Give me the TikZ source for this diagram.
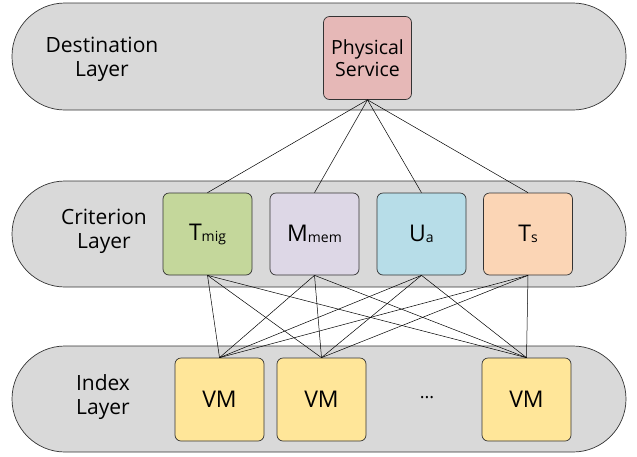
\documentclass[tikz,border=0pt]{standalone}
\usepackage{fontspec}
\setmainfont{Open Sans}
\definecolor{layerfill}{RGB}{217,217,217}
\definecolor{physfill}{RGB}{230,184,183}
\definecolor{tmigfill}{RGB}{196,215,155}
\definecolor{mmemfill}{RGB}{221,215,230}
\definecolor{uafill}{RGB}{183,221,232}
\definecolor{tsfill}{RGB}{251,213,181}
\definecolor{vmfill}{RGB}{255,230,153}
\begin{document}
\begin{tikzpicture}[x=1pt,y=-1pt,
  layer/.style={draw=black!80,fill=layerfill,rounded corners=53pt,line width=0.7pt},
  box/.style={draw=black!80,line width=0.7pt,rounded corners=6pt,minimum width=89pt,minimum height=82pt,inner sep=0pt,font=\fontsize{23}{27}\selectfont},
  lbl/.style={align=center,font=\fontsize{21}{24}\selectfont},
  sub/.style={},
  conn/.style={draw=black,line width=0.5pt}]
\useasboundingbox (0,0) rectangle (637,456);
% layers
\path[layer] (12,3) rectangle (626,110);
\path[layer] (12,181) rectangle (626,287);
\path[layer] (12,346) rectangle (626,452);
\node[lbl] (dl) at (102,59) {Destination\\Layer};
\node[lbl] (cl) at (104,231) {Criterion\\Layer};
\node[lbl] (il) at (103,397) {Index\\Layer};
% boxes
\node[box,fill=physfill,minimum width=88pt,minimum height=83pt,font=\fontsize{19.5}{22}\selectfont,align=center] (ps) at (367.5,58) {Physical\\Service};
\node[box,fill=tmigfill] (t1) at (207.5,234) {T\raisebox{-1pt}{\fontsize{14}{16}\selectfont mig}};
\node[box,fill=mmemfill] (t2) at (314.5,234) {M\raisebox{-1pt}{\fontsize{14}{16}\selectfont mem}};
\node[box,fill=uafill] (t3) at (421.5,234) {U\raisebox{-1pt}{\fontsize{14}{16}\selectfont a}};
\node[box,fill=tsfill] (t4) at (528,234) {T\raisebox{-1pt}{\fontsize{14}{16}\selectfont s}};
\node[box,fill=vmfill,minimum height=83pt] (v1) at (219.5,399.5) {VM};
\node[box,fill=vmfill,minimum height=83pt] (v2) at (321.5,399.5) {VM};
\node[box,fill=vmfill,minimum height=83pt] (v3) at (526.5,399.5) {VM};
\node[font=\fontsize{18}{20}\selectfont] (dots) at (427,398) {...};
% connectors
\foreach \t in {t1,t2,t3,t4} {
  \draw[conn] (ps.south) -- (\t.north);
  \foreach \v in {v1,v2,v3} {
    \draw[conn] (\t.south) -- (\v.north);
  }
}
\end{tikzpicture}
\end{document}
